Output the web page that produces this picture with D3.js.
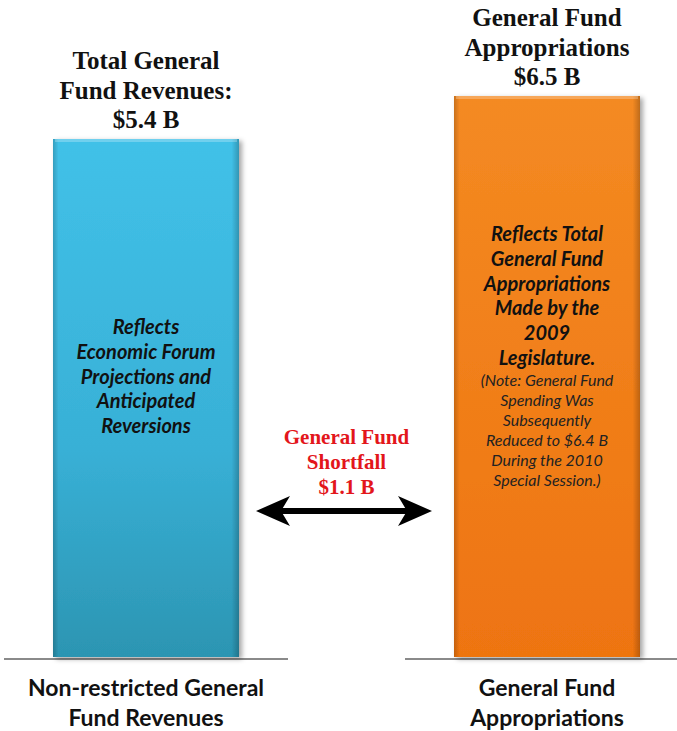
<!DOCTYPE html>
<html>
<head>
<meta charset="utf-8">
<script src="https://cdn.jsdelivr.net/npm/d3@7"></script>
<style>
html,body{margin:0;padding:0;background:#fff;}
svg{display:block;}
</style>
</head>
<body>
<svg id="chart" width="677" height="731"></svg>
<script>
// ---- data ----
const categories = ["Non-restricted General|Fund Revenues", "General Fund|Appropriations"];
const values = [5.4, 6.5];
const titles = [["Total General", "Fund Revenues:", "$5.4 B"], ["General Fund", "Appropriations", "$6.5 B"]];
const notesBold = [
  ["Reflects", "Economic Forum", "Projections and", "Anticipated", "Reversions"],
  ["Reflects Total", "General Fund", "Appropriations", "Made by the", "2009", "Legislature."]
];
const notesSmall = [[], ["(Note: General Fund", "Spending Was", "Subsequently", "Reduced to $6.4 B", "During the 2010", "Special Session.)"]];
const shortfallLabel = ["General Fund", "Shortfall", "$1.1 B"];
const shortfall = values[1] - values[0];

// ---- layout ----
const svg = d3.select("#chart");
const x = d3.scalePoint().domain(categories).range([146, 547]);
const y = d3.scaleLinear().domain([-7.85, 6.5]).range([657, 96]);
const barW = 186;

const defs = svg.append("defs");
const grads = [
  {id: "gBlue", stops: [["0%", "#41c1e8"], ["60%", "#38b0d6"], ["100%", "#2c95b2"]]},
  {id: "gOrange", stops: [["0%", "#f48a22"], ["100%", "#ee7411"]]}
];
grads.forEach(g => {
  const lg = defs.append("linearGradient").attr("id", g.id).attr("x1", 0).attr("y1", 0).attr("x2", 0).attr("y2", 1);
  g.stops.forEach(s => lg.append("stop").attr("offset", s[0]).attr("stop-color", s[1]));
});
const side = defs.append("linearGradient").attr("id", "gSide").attr("x1", 0).attr("y1", 0).attr("x2", 1).attr("y2", 0);
[["0%", "rgba(0,0,0,0.18)"], ["3%", "rgba(0,0,0,0.0)"], ["96%", "rgba(0,0,0,0.0)"], ["100%", "rgba(0,0,0,0.22)"]]
  .forEach(s => side.append("stop").attr("offset", s[0]).attr("stop-color", s[1]));
const f = defs.append("filter").attr("id", "shadow").attr("x", "-10%").attr("y", "-10%").attr("width", "125%").attr("height", "125%");
f.append("feDropShadow").attr("dx", 3).attr("dy", 2).attr("stdDeviation", 2.5).attr("flood-color", "#000").attr("flood-opacity", 0.35);

// baselines
svg.selectAll(".base").data(categories).enter().append("line")
  .attr("x1", d => x(d) - 142).attr("x2", d => x(d) + 142)
  .attr("y1", y(-7.85) + 2).attr("y2", y(-7.85) + 2)
  .attr("stroke", "#8a8a8a").attr("stroke-width", 2.2);

// bars
const fills = ["url(#gBlue)", "url(#gOrange)"];
svg.selectAll(".bar").data(categories).enter().append("rect")
  .attr("x", d => x(d) - barW / 2).attr("width", barW)
  .attr("y", (d, i) => y(values[i])).attr("height", (d, i) => y(-7.85) - y(values[i]))
  .attr("fill", (d, i) => fills[i]).attr("filter", "url(#shadow)");
svg.selectAll(".barside").data(categories).enter().append("rect")
  .attr("x", d => x(d) - barW / 2).attr("width", barW)
  .attr("y", (d, i) => y(values[i])).attr("height", (d, i) => y(-7.85) - y(values[i]))
  .attr("fill", "url(#gSide)");
svg.selectAll(".bartop").data(categories).enter().append("rect")
  .attr("x", d => x(d) - barW / 2 + 2).attr("width", barW - 4)
  .attr("y", (d, i) => y(values[i])).attr("height", 3)
  .attr("fill", "rgba(255,255,255,0.25)");

// titles
titles.forEach((t, i) => {
  const cx = x(categories[i]);
  const top = y(values[i]);
  t.forEach((line, j) => {
    svg.append("text").attr("x", cx).attr("y", top - 11 - (t.length - 1 - j) * 29.5)
      .attr("text-anchor", "middle").attr("font-family", "Liberation Serif, DejaVu Serif, serif")
      .attr("font-weight", "bold").attr("font-size", 25).attr("fill", "#111").text(line);
  });
});

// bar notes
const noteStart = [334, 241];
notesBold.forEach((n, i) => {
  const cx = x(categories[i]);
  n.forEach((line, j) => {
    svg.append("text").attr("x", cx).attr("y", noteStart[i] + j * 24.8)
      .attr("text-anchor", "middle").attr("font-family", "Lato, Open Sans, sans-serif")
      .attr("font-weight", "bold").attr("font-style", "italic").attr("font-size", 20).attr("fill", "#111").text(line);
  });
  notesSmall[i].forEach((line, j) => {
    svg.append("text").attr("x", cx).attr("y", 386 + j * 20)
      .attr("text-anchor", "middle").attr("font-family", "Lato, Open Sans, sans-serif")
      .attr("font-style", "italic").attr("font-size", 16).attr("fill", "#222").text(line);
  });
});

// shortfall
const midX = (x(categories[0]) + x(categories[1])) / 2;
shortfallLabel.forEach((line, j) => {
  svg.append("text").attr("x", midX).attr("y", 444 + j * 25)
    .attr("text-anchor", "middle").attr("font-family", "Liberation Serif, DejaVu Serif, serif")
    .attr("font-weight", "bold").attr("font-size", 21).attr("fill", "#e3161b").text(line);
});
const ax1 = x(categories[0]) + barW / 2 + 17, ax2 = x(categories[1]) - barW / 2 - 22, ay = 511;
svg.append("line").attr("x1", ax1 + 20).attr("x2", ax2 - 20).attr("y1", ay).attr("y2", ay)
  .attr("stroke", "#000").attr("stroke-width", 6);
svg.append("path").attr("d", `M${ax1},${ay} L${ax1 + 34},${ay - 15} L${ax1 + 25},${ay} L${ax1 + 34},${ay + 15} Z`).attr("fill", "#000");
svg.append("path").attr("d", `M${ax2},${ay} L${ax2 - 34},${ay - 15} L${ax2 - 25},${ay} L${ax2 - 34},${ay + 15} Z`).attr("fill", "#000");

// category labels
categories.forEach(c => {
  c.split("|").forEach((line, j) => {
    svg.append("text").attr("x", x(c)).attr("y", 696 + j * 30)
      .attr("text-anchor", "middle").attr("font-family", "Lato, Open Sans, sans-serif")
      .attr("font-weight", "bold").attr("font-size", 23).attr("fill", "#111").text(line);
  });
});
</script>
</body>
</html>
